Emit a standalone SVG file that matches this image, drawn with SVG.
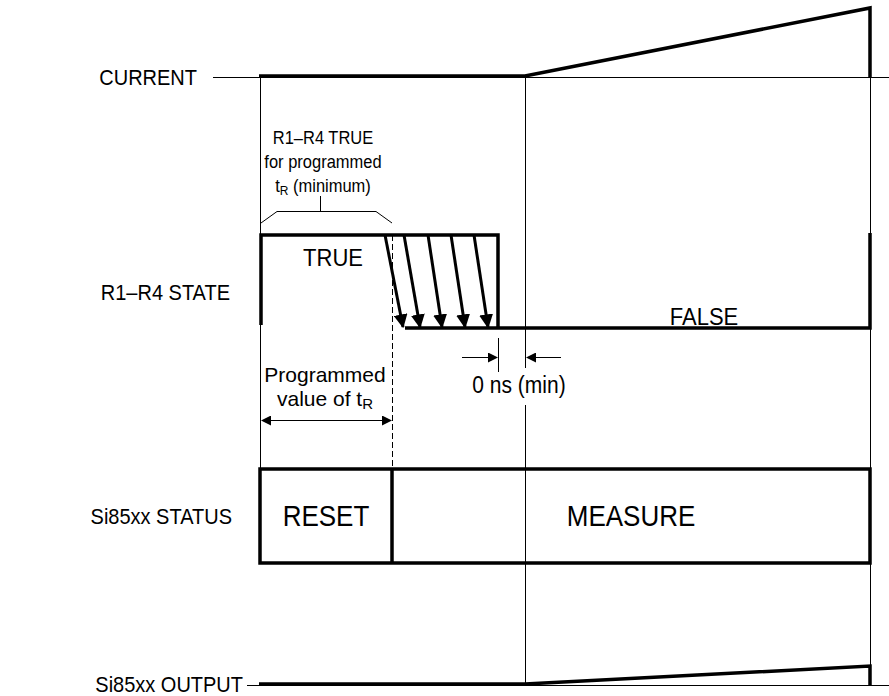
<svg xmlns="http://www.w3.org/2000/svg" width="889" height="696" viewBox="0 0 889 696">
<defs>
<style>
.thin{stroke:#000;stroke-width:1;fill:none}
.thick{stroke:#000;stroke-width:3.5;fill:none;stroke-linejoin:miter}
text{font-family:"Liberation Sans",Arial,sans-serif;fill:#000}
.lbl{font-size:20px}
.st{font-size:22px}
.big{font-size:26px}
.sm{font-size:16.5px}
.md{font-size:21px}
</style>
<marker id="ah" viewBox="0 0 10 10" refX="9" refY="5" markerWidth="10" markerHeight="10" markerUnits="userSpaceOnUse" orient="auto">
<path d="M0,0 L10,5 L0,10 z" fill="#000"/>
</marker>
<marker id="ahb" viewBox="0 0 10 10" refX="9" refY="5" markerWidth="14" markerHeight="14" markerUnits="userSpaceOnUse" orient="auto">
<path d="M0,0 L10,5 L0,10 z" fill="#000"/>
</marker>
</defs>
<rect width="889" height="696" fill="#fff"/>

<g id="labels">
<text class="lbl" transform="translate(197,85) scale(1,1.12)" text-anchor="end">CURRENT</text>
<text class="lbl" transform="translate(230,300) scale(1,1.12)" text-anchor="end">R1–R4 STATE</text>
<text class="lbl" transform="translate(232,524) scale(1,1.12)" text-anchor="end">Si85xx STATUS</text>
<text class="lbl" transform="translate(243,692) scale(1,1.12)" text-anchor="end">Si85xx OUTPUT</text>
</g>

<g id="connectors">
<line class="thin" x1="213" y1="77.5" x2="889" y2="77.5"/>
<line class="thin" x1="247" y1="685.5" x2="889" y2="685.5"/>
<line class="thin" x1="260.5" y1="77" x2="260.5" y2="469"/>
<line class="thin" x1="525.5" y1="77" x2="525.5" y2="368"/>
<line class="thin" x1="525.5" y1="405" x2="525.5" y2="685"/>
<line class="thin" x1="870.5" y1="77" x2="870.5" y2="685"/>
<line class="thin" x1="392.5" y1="235" x2="392.5" y2="469" stroke-dasharray="6,3"/>
</g>

<g id="current">
<path class="thick" d="M259,76 H525 L870,8 V77"/>
</g>

<g id="state">
<path class="thick" d="M261,325 V235 H498 V328"/>
<path class="thick" d="M405,328 H870 V233"/>
<g stroke="#000" stroke-width="3" marker-end="url(#ahb)">
<line x1="385" y1="235" x2="403" y2="327"/>
<line x1="404" y1="235" x2="420" y2="327"/>
<line x1="428" y1="235" x2="442" y2="327"/>
<line x1="451" y1="235" x2="465" y2="327"/>
<line x1="474" y1="235" x2="488" y2="327"/>
</g>
<text class="st" transform="translate(333,266) scale(1,1.12)" text-anchor="middle">TRUE</text>
<text class="st" transform="translate(704,325) scale(1,1.12)" text-anchor="middle">FALSE</text>
</g>

<g id="brace">
<path class="thin" d="M261,223 L277,211.5 H376 L392,223 M320.5,211 V196"/>
<text class="sm" transform="translate(323,144) scale(1,1.12)" text-anchor="middle">R1–R4 TRUE</text>
<text class="sm" transform="translate(323,168) scale(1,1.12)" text-anchor="middle">for programmed</text>
<text class="sm" transform="translate(323,192) scale(1,1.12)" text-anchor="middle">t<tspan font-size="12" dy="3">R</tspan><tspan dy="-3"> (minimum)</tspan></text>
</g>

<g id="tr-dim">
<text class="md" x="325" y="382" text-anchor="middle">Programmed</text>
<text class="md" x="325" y="406" text-anchor="middle">value of t<tspan font-size="15" dy="3">R</tspan></text>
<line class="thin" x1="300" y1="420.5" x2="262" y2="420.5" marker-end="url(#ah)"/>
<line class="thin" x1="300" y1="420.5" x2="391" y2="420.5" marker-end="url(#ah)"/>
</g>

<g id="zero-dim">
<line class="thin" x1="498.5" y1="338" x2="498.5" y2="372"/>
<line class="thin" x1="462" y1="357.5" x2="497" y2="357.5" marker-end="url(#ah)"/>
<line class="thin" x1="561" y1="357.5" x2="527" y2="357.5" marker-end="url(#ah)"/>
<text class="md" transform="translate(519,393) scale(1,1.12)" text-anchor="middle">0 ns (min)</text>
</g>

<g id="status">
<rect x="260" y="469" width="610" height="94" class="thick"/>
<line class="thick" x1="392" y1="469" x2="392" y2="563"/>
<text class="big" transform="translate(326,526) scale(1,1.12)" text-anchor="middle">RESET</text>
<text class="big" transform="translate(631,526) scale(1,1.12)" text-anchor="middle">MEASURE</text>
</g>

<g id="output">
<path class="thick" d="M259,684 H525 L870,666 V685"/>
</g>
</svg>
